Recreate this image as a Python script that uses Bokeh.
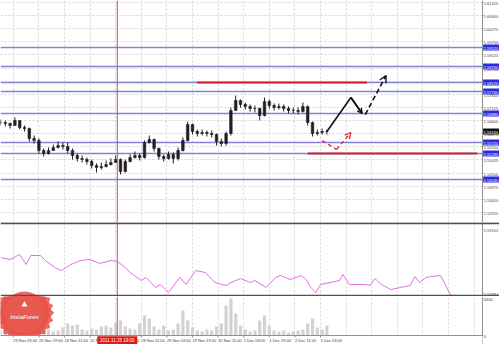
from bokeh.plotting import figure
from bokeh.layouts import column
from bokeh.models import Range1d, FixedTicker, Span
from bokeh.models import Arrow, OpenHead
from bokeh.core.properties import value
from bokeh.embed import file_html
from bokeh.resources import INLINE

# ---------------- data ----------------
bars = list(range(0, 207, 3))
closes = [1.5652, 1.5648, 1.5640, 1.5660, 1.5632, 1.5628, 1.5588, 1.5580, 1.5540, 1.5528,
          1.5540, 1.5552, 1.5560, 1.5556, 1.5540, 1.5520, 1.5508, 1.5504, 1.5496, 1.5480,
          1.5472, 1.5476, 1.5484, 1.5492, 1.5504, 1.5456, 1.5496, 1.5512, 1.5520, 1.5512,
          1.5572, 1.5584, 1.5548, 1.5516, 1.5508, 1.5524, 1.5508, 1.5540, 1.5580, 1.5644,
          1.5616, 1.5608, 1.5612, 1.5608, 1.5604, 1.5576, 1.5568, 1.5608, 1.5700, 1.5740,
          1.5724, 1.5716, 1.5708, 1.5708, 1.5680, 1.5736, 1.5720, 1.5712, 1.5716, 1.5708,
          1.5700, 1.5700, 1.5696, 1.5716, 1.5652, 1.5608, 1.5612, 1.5616, 1.5616]
highs = [1.5664, 1.5660, 1.5652, 1.5672, 1.5660, 1.5640, 1.5632, 1.5600, 1.5588, 1.5548,
         1.5552, 1.5564, 1.5576, 1.5572, 1.5572, 1.5548, 1.5528, 1.5520, 1.5512, 1.5504,
         1.5488, 1.5492, 1.5500, 1.5508, 1.5520, 1.5508, 1.5504, 1.5524, 1.5536, 1.5528,
         1.5580, 1.5600, 1.5588, 1.5552, 1.5524, 1.5536, 1.5532, 1.5552, 1.5592, 1.5656,
         1.5648, 1.5624, 1.5624, 1.5620, 1.5620, 1.5608, 1.5588, 1.5616, 1.5712, 1.5760,
         1.5744, 1.5732, 1.5724, 1.5720, 1.5712, 1.5752, 1.5744, 1.5728, 1.5728, 1.5724,
         1.5716, 1.5712, 1.5712, 1.5732, 1.5720, 1.5656, 1.5624, 1.5628, 1.5624]
lows = [1.5640, 1.5636, 1.5628, 1.5644, 1.5624, 1.5616, 1.5576, 1.5568, 1.5528, 1.5516,
        1.5524, 1.5540, 1.5548, 1.5544, 1.5528, 1.5504, 1.5496, 1.5492, 1.5484, 1.5468,
        1.5452, 1.5464, 1.5472, 1.5480, 1.5492, 1.5444, 1.5452, 1.5492, 1.5508, 1.5500,
        1.5508, 1.5568, 1.5536, 1.5504, 1.5496, 1.5504, 1.5488, 1.5500, 1.5536, 1.5576,
        1.5604, 1.5596, 1.5600, 1.5596, 1.5592, 1.5560, 1.5556, 1.5560, 1.5600, 1.5700,
        1.5712, 1.5704, 1.5696, 1.5692, 1.5660, 1.5676, 1.5708, 1.5700, 1.5704, 1.5696,
        1.5688, 1.5688, 1.5684, 1.5692, 1.5640, 1.5596, 1.5600, 1.5604, 1.5604]
volumes = [600, 720, 480, 840, 600, 720, 1080, 720, 960, 600,
           720, 480, 600, 960, 1440, 1200, 1320, 720, 600, 840,
           720, 1080, 1200, 960, 1560, 1800, 1080, 840, 720, 1440,
           2400, 2040, 1080, 720, 1200, 600, 720, 1440, 3000, 1800,
           960, 600, 480, 720, 600, 1080, 1440, 3600, 4440, 2640,
           1200, 720, 480, 600, 1800, 2400, 1200, 600, 480, 600,
           360, 480, 600, 720, 1440, 2040, 960, 720, 1200]

ind_bars = [0, 6, 12, 16, 19, 25, 28, 34, 38, 41, 44, 50, 56, 62, 69, 73, 78, 81, 88, 91,
            94, 97, 100, 105, 106, 112, 116, 122, 128, 134, 141, 144, 150, 156, 159, 166, 169, 172, 175, 181,
            188, 191, 194, 197, 200, 206, 212, 214, 218, 222, 228, 231, 234, 238, 244, 250, 256, 259, 262, 266,
            269, 275, 278, 281, 284, 291, 294, 297]
ind_vals = [1.5770, 1.5760, 1.5785, 1.5735, 1.5780, 1.5780, 1.5755, 1.5720, 1.5705, 1.5720,
            1.5735, 1.5755, 1.5760, 1.5740, 1.5755, 1.5750, 1.5720, 1.5695, 1.5655, 1.5670,
            1.5645, 1.5620, 1.5635, 1.5595, 1.5605, 1.5670, 1.5635, 1.5705, 1.5695, 1.5645,
            1.5630, 1.5645, 1.5665, 1.5645, 1.5655, 1.5620, 1.5645, 1.5670, 1.5680, 1.5660,
            1.5680, 1.5660, 1.5620, 1.5595, 1.5635, 1.5645, 1.5655, 1.5685, 1.5635, 1.5635,
            1.5635, 1.5630, 1.5665, 1.5635, 1.5610, 1.5620, 1.5630, 1.5675, 1.5645, 1.5670,
            1.5675, 1.5680, 1.5635, 1.5585, 1.5575, 1.5570, 1.5580, 1.5570]

price_ticks = [1.61325, 1.60800, 1.60275, 1.59750, 1.59225, 1.58700, 1.58175, 1.57650, 1.57125,
               1.56600, 1.56075, 1.55550, 1.55025, 1.54500, 1.53975, 1.53450, 1.52925]
ind_ticks = [1.59101, 1.55884]
vol_ticks = [4440, 0]
vol_tick_labels = ["4440", "0"]
levels = [1.5952, 1.5876, 1.5812, 1.5776, 1.5688, 1.5572, 1.5528, 1.5424]
current_price = 1.5616
resistance = [123, 229, 1.5812]
support = [192, 298, 1.5528]

path_bars = [204, 219, 226]
path_prices = [1.5616, 1.5752, 1.5688]
target_bars = [228, 241]
target_prices = [1.5684, 1.5840]
alt_bars = [201, 210, 219]
alt_prices = [1.5580, 1.5544, 1.5612]

time_ticks = [8, 24, 40, 56, 72, 88, 104, 120, 136, 152, 168, 184, 200]
time_labels = ["23 Nov 03:00", "23 Nov 19:00", "24 Nov 11:00", "25 Nov 03:00", "25 Nov 19:00",
               "28 Nov 11:00", "29 Nov 03:00", "29 Nov 19:00", "30 Nov 11:00", "1 Dec 03:00",
               "1 Dec 19:00", "2 Dec 11:00", "5 Dec 03:00"]
grid_ticks = [8, 24, 40, 56, 72, 88, 104, 120, 136, 152, 168, 184, 200, 216, 232, 248, 264, 280, 296]
cursor_bar = 73
cursor_label = "2011.11.25 19:00"

# ---------------- layout constants ----------------
FONT = "Liberation Sans"
AX_FS = "4px"
PX_PER_BAR = 1.6
X_END = 499 / PX_PER_BAR          # whole window width in bars
AXIS_X = 482 / PX_PER_BAR         # left edge of the price scale strip
TXT_X = AXIS_X + 0.8
xr = Range1d(0, X_END)
GRID = "#d4d4d4"
AXIS_COL = "#909090"
LABEL_COL = "#404040"
BOX_BLUE = "#2a2ae0"


def base_fig(height, yr):
    f = figure(width=499, height=height, x_range=xr, y_range=yr,
               output_backend="svg", toolbar_location=None,
               x_axis_location=None, y_axis_location=None,
               min_border_left=0, min_border_right=0, min_border_top=0, min_border_bottom=0)
    f.background_fill_color = "white"
    f.border_fill_color = "white"
    f.outline_line_color = None
    f.xgrid.ticker = FixedTicker(ticks=grid_ticks)
    f.xgrid.grid_line_color = GRID
    f.xgrid.grid_line_dash = "2 2"
    f.ygrid.visible = False
    f.add_layout(Span(location=cursor_bar, dimension="height", line_color="#d05050", line_width=1))
    return f


def price_scale(f, ticks, labels, y0, y1):
    # white strip on the right carrying the scale
    f.quad(left=[AXIS_X], right=[X_END + 1], top=[y1], bottom=[y0], fill_color="white", line_color=None)
    f.segment(x0=[AXIS_X], y0=[y0], x1=[AXIS_X], y1=[y1], line_color=AXIS_COL, line_width=1)
    f.segment(x0=[AXIS_X] * len(ticks), y0=ticks, x1=[AXIS_X + 0.6] * len(ticks), y1=ticks,
              line_color=AXIS_COL, line_width=1)
    f.text(x=[TXT_X] * len(ticks), y=ticks, text=labels, text_font=value(FONT), y_offset=1,
           text_font_size=AX_FS, text_color=LABEL_COL, text_align="left", text_baseline="middle")


def price_box(f, y, half, color):
    f.quad(left=[AXIS_X + 0.4], right=[X_END + 1], top=[y + half], bottom=[y - half],
           fill_color=color, line_color=None)
    f.text(x=[TXT_X], y=[y], text=["%.5f" % y], text_font=value(FONT), y_offset=0.5,
           text_font_size=AX_FS, text_color="white", text_align="left", text_baseline="middle")


# ---------------- main price panel ----------------
P_TOP = 1.614
P_BOT = 1.614 - 222 * 0.0004
p1 = base_fig(222, Range1d(P_BOT, P_TOP))
p1.ygrid.visible = True
p1.ygrid.ticker = FixedTicker(ticks=price_ticks)
p1.ygrid.grid_line_color = GRID
p1.ygrid.grid_line_dash = "2 2"

p1.segment(x0=[0] * len(levels), y0=levels, x1=[AXIS_X] * len(levels), y1=levels,
           line_color="#8282d6", line_width=1.5)
p1.segment(x0=[resistance[0]], y0=[resistance[2]], x1=[resistance[1]], y1=[resistance[2]],
           line_color="#cc2222", line_width=2)
p1.segment(x0=[support[0]], y0=[support[2]], x1=[support[1]], y1=[support[2]],
           line_color="#cc2222", line_width=2)

p1.segment(x0=bars, y0=highs, x1=bars, y1=lows, line_color="#202020", line_width=1)
opens = [closes[0]] + closes[:-1]
p1.vbar(x=bars, width=1.6, top=opens, bottom=closes, fill_color="#202020", line_color="#202020",
        line_width=0.6)

p1.line(path_bars, path_prices, line_color="#111111", line_width=1.6)
p1.add_layout(Arrow(end=OpenHead(size=5, line_color="#111111", line_width=1.4),
                    x_start=path_bars[1], y_start=path_prices[1],
                    x_end=path_bars[2], y_end=path_prices[2],
                    line_color="#111111", line_width=1.6))
p1.add_layout(Arrow(end=OpenHead(size=7, line_color="#111111", line_width=1.4),
                    x_start=target_bars[0], y_start=target_prices[0],
                    x_end=target_bars[1], y_end=target_prices[1],
                    line_color="#111111", line_width=1.6, line_dash="5 3"))
p1.line(alt_bars[:2], alt_prices[:2], line_color="#e03030", line_width=1.4, line_dash="4 3")
p1.add_layout(Arrow(end=OpenHead(size=6, line_color="#e03030", line_width=1.3),
                    x_start=alt_bars[1], y_start=alt_prices[1],
                    x_end=alt_bars[2], y_end=alt_prices[2],
                    line_color="#e03030", line_width=1.4, line_dash="4 3"))

price_scale(p1, price_ticks, ["%.5f" % t for t in price_ticks], P_BOT, P_TOP)
for lv in levels:
    price_box(p1, lv, 0.0012, BOX_BLUE)
price_box(p1, current_price, 0.0012, "#111111")

# ---------------- indicator panel ----------------
I_TOP, I_BOT = 1.5945, 1.5575
p2 = base_fig(74, Range1d(I_BOT, I_TOP))
p2.line(ind_bars, ind_vals, line_color="#df70df", line_width=1)
p2.scatter(x=[15], y=[1.5490], size=44, marker="circle", fill_color="#e8524a",
           line_color=None, fill_alpha=0.85)
price_scale(p2, ind_ticks, ["%.5f" % t for t in ind_ticks], I_BOT, I_TOP)
p2.add_layout(Span(location=1.5941, dimension="width", line_color="#505050", line_width=2))
p2.add_layout(Span(location=1.5579, dimension="width", line_color="#505050", line_width=2))

# ---------------- volume panel + time scale ----------------
V_TOP, V_BOT = 4680, -1080
p3 = base_fig(48, Range1d(V_BOT, V_TOP))
p3.vbar(x=bars, width=2.0, top=volumes, bottom=0, fill_color="#d2d2d2", line_color=None)
for ang in [0, 0.26, 0.52, 0.79, 1.05, 1.31]:
    p3.scatter(x=[15], y=[2700], size=42, marker="square", angle=ang, fill_color="#e8524a",
               line_color=None, fill_alpha=0.85)
p3.scatter(x=[15], y=[2700], size=40, marker="circle", fill_color="#e85a50", line_color=None)
p3.scatter(x=[15], y=[3700], size=6, marker="triangle", fill_color="white", line_color=None)
p3.text(x=[15], y=[2200], text=["InstaForex"], text_font=value(FONT), text_font_size="6px",
        text_color="white", text_align="center", text_baseline="middle", text_font_style="italic")
price_scale(p3, vol_ticks, vol_tick_labels, V_BOT, V_TOP)

# time scale strip
p3.quad(left=[0], right=[AXIS_X], top=[0], bottom=[V_BOT], fill_color="white", line_color=None)
p3.segment(x0=[0], y0=[0], x1=[AXIS_X], y1=[0], line_color=AXIS_COL, line_width=1)
p3.segment(x0=time_ticks, y0=[0] * len(time_ticks), x1=time_ticks, y1=[-240] * len(time_ticks),
           line_color=AXIS_COL, line_width=1)
p3.text(x=time_ticks, y=[-560] * len(time_ticks), text=time_labels, text_font=value(FONT),
        text_font_size="4px", text_color=LABEL_COL, text_align="left", text_baseline="middle")
p3.quad(left=[cursor_bar - 12.5], right=[cursor_bar + 12.5], top=[-100], bottom=[-1020],
        fill_color="#e01818", line_color=None)
p3.text(x=[cursor_bar], y=[-560], text=[cursor_label], text_font=value(FONT),
        text_font_size="4.5px", text_color="white", text_align="center", text_baseline="middle")

layout = column(p1, p2, p3, spacing=0)
open("out.html", "w").write(file_html(layout, INLINE))
